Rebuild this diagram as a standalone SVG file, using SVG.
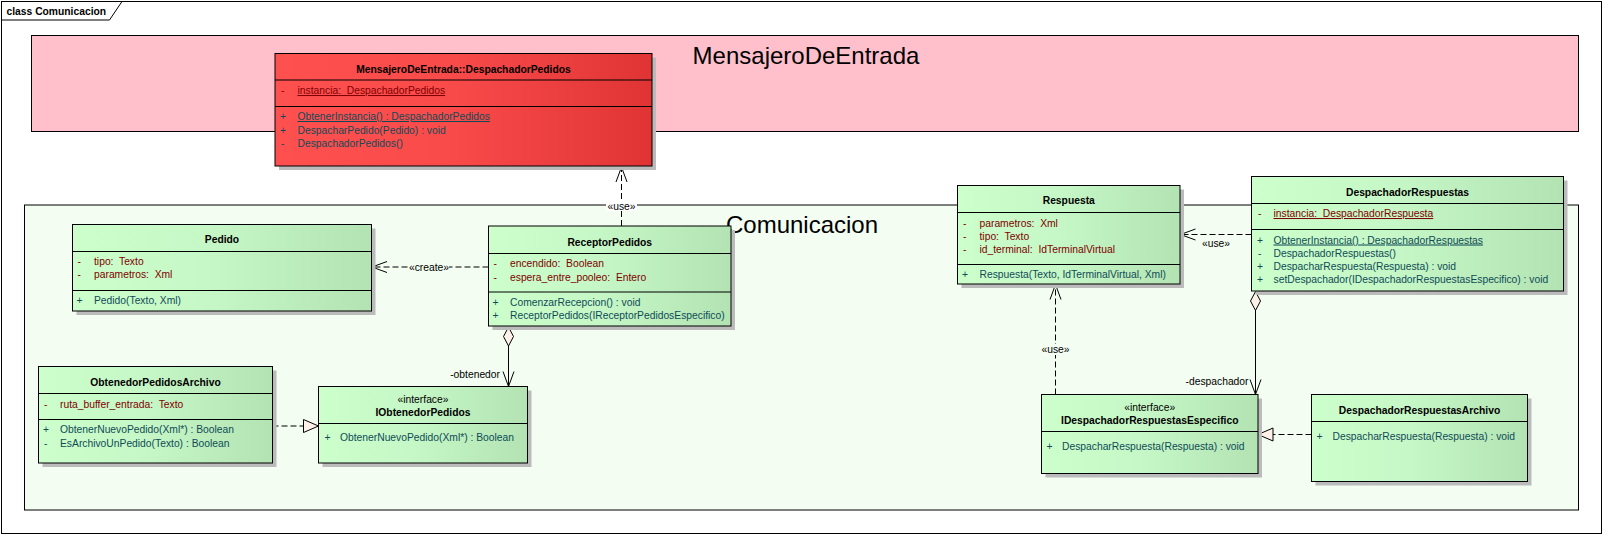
<svg xmlns="http://www.w3.org/2000/svg" width="1606" height="537" viewBox="0 0 1606 537">
<style>
.frame{fill:#fff;stroke:#000;stroke-width:1}
.pkgP{fill:#FFC0CB;stroke:#000;stroke-width:1}
.pkgG{fill:#F3FDF1;stroke:#000;stroke-width:1}
.pt{font-family:"Liberation Sans",Arial,sans-serif;font-size:24px;fill:#000;text-anchor:middle}
.sh{fill:#BBBBBB}
.cg{fill:url(#gG);stroke:#000;stroke-width:1}
.cr{fill:url(#gR);stroke:#000;stroke-width:1}
.dv{stroke:#000;stroke-width:1}
.t{font-family:"Liberation Sans",Arial,sans-serif;font-size:10.3px}
.nm{font-weight:bold;text-anchor:middle;fill:#000}
.st{text-anchor:middle;fill:#000}
.at{fill:#800000}
.op{fill:#0F4B57}
.ul{text-decoration:underline}
.lb{fill:#000}
.c{stroke:#000;stroke-width:1;fill:none}
.d{stroke-dasharray:6 3}
</style>
<defs>
<linearGradient id="gG" x1="0" y1="0" x2="1" y2="0">
<stop offset="0" stop-color="#CCFFCC"/><stop offset="0.45" stop-color="#C6F7C6"/><stop offset="1" stop-color="#B3E3B3"/>
</linearGradient>
<linearGradient id="gR" x1="0" y1="0" x2="1" y2="0">
<stop offset="0" stop-color="#FF5050"/><stop offset="0.45" stop-color="#FA4B4B"/><stop offset="1" stop-color="#E03434"/>
</linearGradient>
<marker id="open" markerUnits="userSpaceOnUse" orient="auto" overflow="visible" markerWidth="1" markerHeight="1">
<path d="M -15 -5.5 L 0 0 L -15 5.5" fill="none" stroke="#000" stroke-width="1" stroke-dasharray="none"/>
</marker>
<marker id="tri" markerUnits="userSpaceOnUse" orient="auto" overflow="visible" markerWidth="1" markerHeight="1">
<path d="M 0 0 L -15 -6.5 L -15 6.5 Z" fill="#FFF1EA" stroke="#000" stroke-width="1" stroke-dasharray="none"/>
</marker>
<marker id="dia" markerUnits="userSpaceOnUse" orient="auto" overflow="visible" markerWidth="1" markerHeight="1">
<path d="M 0 0 L 9.5 -5 L 19 0 L 9.5 5 Z" fill="#FFF1EA" stroke="#000" stroke-width="1" stroke-dasharray="none"/>
</marker>
</defs>
<g id="frame">
<rect class="frame" x="1.5" y="1.5" width="1600" height="532"/>
<path class="c" d="M 1.5 20 L 109.5 20 L 122 1.5"/>
<text class="t" x="6.5" y="14.5" font-weight="bold" fill="#000">class Comunicacion</text>
</g>
<g id="pkg-MensajeroDeEntrada">
<rect class="pkgP" x="31.5" y="35.5" width="1547" height="96"/>
<text class="pt" x="806" y="64">MensajeroDeEntrada</text>
</g>
<g id="pkg-Comunicacion">
<rect class="pkgG" x="24.5" y="205" width="1554" height="305"/>
<text class="pt" x="802" y="233">Comunicacion</text>
</g>
<g id="connectors">
<path class="c d" d="M 621.5 226 L 621.5 167" marker-end="url(#open)"/>
<rect x="606" y="201" width="31" height="10" fill="#fff"/>
<text class="t lb" x="621.5" y="209.5" text-anchor="middle">«use»</text>
<path class="c d" d="M 488.5 267 L 372 267" marker-end="url(#open)"/>
<rect x="409" y="262" width="40" height="11" fill="#F3FDF1"/>
<text class="t lb" x="429" y="271" text-anchor="middle">«create»</text>
<path class="c" d="M 508.5 327 L 508.5 386.5" marker-start="url(#dia)" marker-end="url(#open)"/>
<text class="t lb" x="500" y="377.5" text-anchor="end">-obtenedor</text>
<path class="c d" d="M 272.5 426 L 318.5 426" marker-end="url(#tri)"/>
<path class="c d" d="M 1251.5 234.5 L 1180.5 234.5" marker-end="url(#open)"/>
<text class="t lb" x="1216" y="247" text-anchor="middle">«use»</text>
<path class="c" d="M 1255.5 291.5 L 1255.5 394.5" marker-start="url(#dia)" marker-end="url(#open)"/>
<text class="t lb" x="1248.5" y="385" text-anchor="end">-despachador</text>
<path class="c d" d="M 1055.5 394.5 L 1055.5 284.5" marker-end="url(#open)"/>
<rect x="1041" y="344" width="29" height="11" fill="#F3FDF1"/>
<text class="t lb" x="1055.5" y="352.5" text-anchor="middle">«use»</text>
<path class="c d" d="M 1311.5 434.5 L 1258 434.5" marker-end="url(#tri)"/>
</g>
<g id="DespachadorPedidos">
<rect class="sh" x="279" y="57.5" width="377" height="112.5"/>
<rect class="cr" x="275" y="53.5" width="377" height="112.5"/>
<line class="dv" x1="275" y1="80" x2="652" y2="80"/>
<line class="dv" x1="275" y1="106.5" x2="652" y2="106.5"/>
<text class="t nm" x="463.5" y="72.5">MensajeroDeEntrada::DespachadorPedidos</text>
<text class="t at" x="281" y="94">-</text>
<text class="t at ul" x="297.5" y="94">instancia:&#160; DespachadorPedidos</text>
<text class="t op" x="280" y="120">+</text>
<text class="t op ul" x="297.5" y="120">ObtenerInstancia() : DespachadorPedidos</text>
<text class="t op" x="280" y="133.5">+</text>
<text class="t op" x="297.5" y="133.5">DespacharPedido(Pedido) : void</text>
<text class="t op" x="281" y="146.5">-</text>
<text class="t op" x="297.5" y="146.5">DespachadorPedidos()</text>
</g>
<g id="Pedido">
<rect class="sh" x="76.5" y="228.5" width="299" height="86.5"/>
<rect class="cg" x="72.5" y="224.5" width="299" height="86.5"/>
<line class="dv" x1="72.5" y1="251.5" x2="371.5" y2="251.5"/>
<line class="dv" x1="72.5" y1="290.5" x2="371.5" y2="290.5"/>
<text class="t nm" x="222" y="243">Pedido</text>
<text class="t at" x="77.5" y="265">-</text>
<text class="t at" x="94" y="265">tipo:&#160; Texto</text>
<text class="t at" x="77.5" y="278">-</text>
<text class="t at" x="94" y="278">parametros:&#160; Xml</text>
<text class="t op" x="76.5" y="303.5">+</text>
<text class="t op" x="94" y="303.5">Pedido(Texto, Xml)</text>
</g>
<g id="ReceptorPedidos">
<rect class="sh" x="492.5" y="230" width="242.5" height="100"/>
<rect class="cg" x="488.5" y="226" width="242.5" height="100"/>
<line class="dv" x1="488.5" y1="253.5" x2="731" y2="253.5"/>
<line class="dv" x1="488.5" y1="292" x2="731" y2="292"/>
<text class="t nm" x="609.75" y="245.5">ReceptorPedidos</text>
<text class="t at" x="493.5" y="267">-</text>
<text class="t at" x="510" y="267">encendido:&#160; Boolean</text>
<text class="t at" x="493.5" y="280.5">-</text>
<text class="t at" x="510" y="280.5">espera_entre_pooleo:&#160; Entero</text>
<text class="t op" x="492.5" y="305.5">+</text>
<text class="t op" x="510" y="305.5">ComenzarRecepcion() : void</text>
<text class="t op" x="492.5" y="318.5">+</text>
<text class="t op" x="510" y="318.5">ReceptorPedidos(IReceptorPedidosEspecifico)</text>
</g>
<g id="Respuesta">
<rect class="sh" x="961.5" y="189.5" width="222.5" height="98.5"/>
<rect class="cg" x="957.5" y="185.5" width="222.5" height="98.5"/>
<line class="dv" x1="957.5" y1="212.5" x2="1180" y2="212.5"/>
<line class="dv" x1="957.5" y1="264.5" x2="1180" y2="264.5"/>
<text class="t nm" x="1068.75" y="204">Respuesta</text>
<text class="t at" x="963" y="226.5">-</text>
<text class="t at" x="979.5" y="226.5">parametros:&#160; Xml</text>
<text class="t at" x="963" y="239.5">-</text>
<text class="t at" x="979.5" y="239.5">tipo:&#160; Texto</text>
<text class="t at" x="963" y="252.5">-</text>
<text class="t at" x="979.5" y="252.5">id_terminal:&#160; IdTerminalVirtual</text>
<text class="t op" x="962" y="278">+</text>
<text class="t op" x="979.5" y="278">Respuesta(Texto, IdTerminalVirtual, Xml)</text>
</g>
<g id="DespachadorRespuestas">
<rect class="sh" x="1255.5" y="180.5" width="312" height="114.5"/>
<rect class="cg" x="1251.5" y="176.5" width="312" height="114.5"/>
<line class="dv" x1="1251.5" y1="203.5" x2="1563.5" y2="203.5"/>
<line class="dv" x1="1251.5" y1="229.5" x2="1563.5" y2="229.5"/>
<text class="t nm" x="1407.5" y="196">DespachadorRespuestas</text>
<text class="t at" x="1258" y="217">-</text>
<text class="t at ul" x="1273.5" y="217">instancia:&#160; DespachadorRespuesta</text>
<text class="t op" x="1257" y="243.5">+</text>
<text class="t op ul" x="1273.5" y="243.5">ObtenerInstancia() : DespachadorRespuestas</text>
<text class="t op" x="1258" y="256.5">-</text>
<text class="t op" x="1273.5" y="256.5">DespachadorRespuestas()</text>
<text class="t op" x="1257" y="269.5">+</text>
<text class="t op" x="1273.5" y="269.5">DespacharRespuesta(Respuesta) : void</text>
<text class="t op" x="1257" y="282.5">+</text>
<text class="t op" x="1273.5" y="282.5">setDespachador(IDespachadorRespuestasEspecifico) : void</text>
</g>
<g id="ObtenedorPedidosArchivo">
<rect class="sh" x="42.5" y="370.5" width="234" height="96.5"/>
<rect class="cg" x="38.5" y="366.5" width="234" height="96.5"/>
<line class="dv" x1="38.5" y1="393.5" x2="272.5" y2="393.5"/>
<line class="dv" x1="38.5" y1="419.5" x2="272.5" y2="419.5"/>
<text class="t nm" x="155.5" y="385.5">ObtenedorPedidosArchivo</text>
<text class="t at" x="44" y="407.5">-</text>
<text class="t at" x="60" y="407.5">ruta_buffer_entrada:&#160; Texto</text>
<text class="t op" x="43" y="433">+</text>
<text class="t op" x="60" y="433">ObtenerNuevoPedido(Xml*) : Boolean</text>
<text class="t op" x="44" y="446.5">-</text>
<text class="t op" x="60" y="446.5">EsArchivoUnPedido(Texto) : Boolean</text>
</g>
<g id="IObtenedorPedidos">
<rect class="sh" x="322.5" y="390.5" width="209" height="76.5"/>
<rect class="cg" x="318.5" y="386.5" width="209" height="76.5"/>
<line class="dv" x1="318.5" y1="423.5" x2="527.5" y2="423.5"/>
<text class="t st" x="423" y="402.5">«interface»</text>
<text class="t nm" x="423" y="415.5">IObtenedorPedidos</text>
<text class="t op" x="324.5" y="441">+</text>
<text class="t op" x="340" y="441">ObtenerNuevoPedido(Xml*) : Boolean</text>
</g>
<g id="IDespachadorRespuestasEspecifico">
<rect class="sh" x="1045.5" y="398.5" width="216.5" height="79"/>
<rect class="cg" x="1041.5" y="394.5" width="216.5" height="79"/>
<line class="dv" x1="1041.5" y1="431.5" x2="1258" y2="431.5"/>
<text class="t st" x="1149.75" y="411">«interface»</text>
<text class="t nm" x="1149.75" y="424">IDespachadorRespuestasEspecifico</text>
<text class="t op" x="1046.5" y="449.5">+</text>
<text class="t op" x="1062" y="449.5">DespacharRespuesta(Respuesta) : void</text>
</g>
<g id="DespachadorRespuestasArchivo">
<rect class="sh" x="1315.5" y="398.5" width="216" height="87"/>
<rect class="cg" x="1311.5" y="394.5" width="216" height="87"/>
<line class="dv" x1="1311.5" y1="421.5" x2="1527.5" y2="421.5"/>
<text class="t nm" x="1419.5" y="413.5">DespachadorRespuestasArchivo</text>
<text class="t op" x="1316.5" y="439.5">+</text>
<text class="t op" x="1332.5" y="439.5">DespacharRespuesta(Respuesta) : void</text>
</g>
</svg>
